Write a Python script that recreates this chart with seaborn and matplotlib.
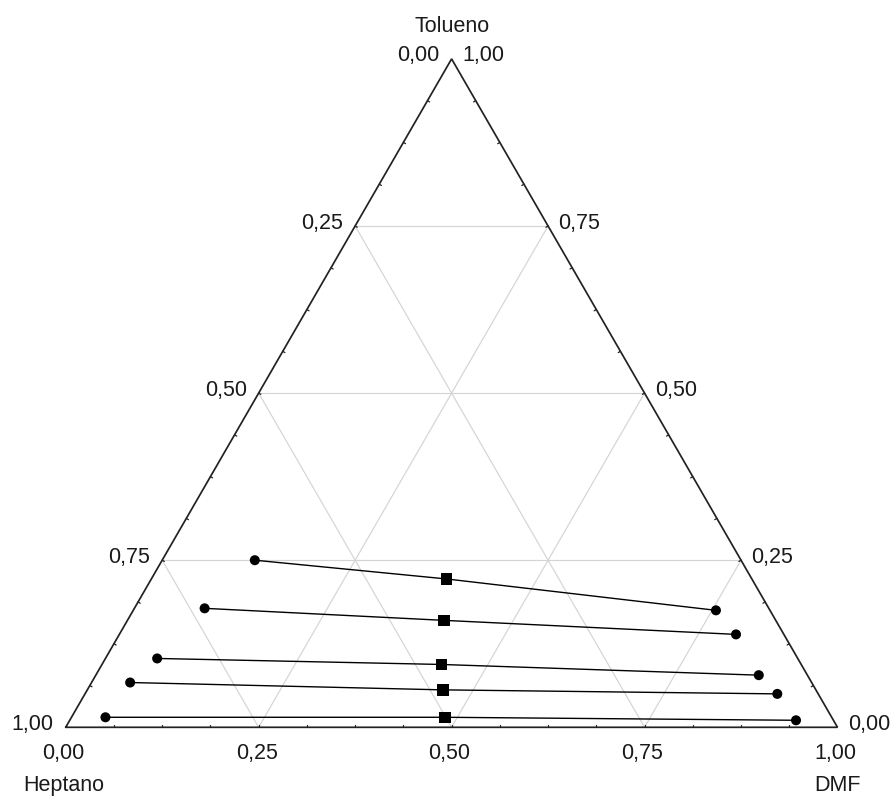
import numpy as np
import pandas as pd
import matplotlib
matplotlib.use("Agg")
import matplotlib.pyplot as plt
import seaborn as sns

# Liquid-liquid equilibrium tie lines for Heptano / Tolueno / DMF (mass fractions)
# Heptane-rich phase (left ends)
raf_dmf = [0.120, 0.091, 0.067, 0.050, 0.044]
raf_tol = [0.250, 0.178, 0.103, 0.067, 0.015]
# Global mixture compositions (squares)
mix_dmf = [0.382, 0.410, 0.440, 0.461, 0.484]
mix_tol = [0.222, 0.160, 0.094, 0.056, 0.015]
# DMF-rich phase (right ends)
ext_dmf = [0.755, 0.799, 0.859, 0.897, 0.941]
ext_tol = [0.175, 0.139, 0.078, 0.050, 0.0105]

tick_values = [0.0, 0.25, 0.5, 0.75, 1.0]
tick_labels = ["0,00", "0,25", "0,50", "0,75", "1,00"]
component_names = ["Heptano", "DMF", "Tolueno"]

SQ3 = np.sqrt(3) / 2


def to_xy(dmf, tol):
    dmf = np.asarray(dmf, float)
    tol = np.asarray(tol, float)
    return dmf + tol / 2, tol * SQ3


rows = []
for i in range(len(raf_dmf)):
    for kind, d, t in (("fase", raf_dmf[i], raf_tol[i]),
                       ("mezcla", mix_dmf[i], mix_tol[i]),
                       ("fase", ext_dmf[i], ext_tol[i])):
        x, y = to_xy(d, t)
        rows.append({"linea": i, "tipo": kind, "x": float(x), "y": float(y)})
df = pd.DataFrame(rows)

sns.set_style("white")
plt.rcParams["font.family"] = ["Liberation Sans", "DejaVu Sans"]

W, H = 894, 796
fig = plt.figure(figsize=(W / 100, H / 100), dpi=100)
ax = fig.add_axes([0, 0, 1, 1])

# pixel scale of the unit triangle and its lower-left corner
S = 771.8
OX, OY = 65.7, 727.3
ax.set_xlim(-OX / S, (W - OX) / S)
ax.set_ylim(-(H - OY) / S, OY / S)
ax.set_axis_off()


def px(v):
    return v / S


# grid lines of the three components
grid_kw = dict(color="#d4d4d4", lw=0.85, zorder=1)
for v in tick_values[1:-1]:
    # constant Tolueno
    x, y = to_xy([0, 1 - v], [v, v])
    ax.plot(x, y, **grid_kw)
    # constant DMF
    x, y = to_xy([v, v], [0, 1 - v])
    ax.plot(x, y, **grid_kw)
    # constant Heptano
    x, y = to_xy([1 - v, 0], [0, 1 - v])
    ax.plot(x, y, **grid_kw)

# triangle frame
tx, ty = to_xy([0, 1, 0, 0], [0, 0, 1, 0])
ax.plot(tx, ty, color="#222222", lw=1.25, zorder=2, solid_joinstyle="miter")

# small ticks every 1/16 along each edge
tl = px(2.5)
tick_kw = dict(color="#222222", lw=0.9, zorder=2)
for k in range(1, 16):
    f = k / 16
    # bottom edge (DMF)
    x, y = to_xy(f, 0)
    ax.plot([x, x], [y, y + tl], **tick_kw)
    # left edge (Heptano)
    x, y = to_xy(0, f)
    ax.plot([x, x + tl * SQ3], [y, y - tl * 0.5], **tick_kw)
    # right edge (Tolueno)
    x, y = to_xy(1 - f, f)
    ax.plot([x, x - tl * SQ3], [y, y - tl * 0.5], **tick_kw)

# tie lines and their points
sns.lineplot(data=df, x="x", y="y", units="linea", estimator=None, sort=False,
             color="black", lw=1.0, ax=ax, legend=False, zorder=3)
sns.scatterplot(data=df, x="x", y="y", style="tipo",
                markers={"fase": "o", "mezcla": "s"},
                size="tipo", sizes={"fase": 52, "mezcla": 66},
                color="black", linewidth=0, ax=ax, legend=False, zorder=4)

txt = dict(fontsize=15.5, color="#1a1a1a")

# tick labels on the three edges
for v, lab in zip(tick_values, tick_labels):
    # bottom: DMF
    x, y = to_xy(v, 0)
    ax.text(x - px(2), y - px(31.7), lab, ha="center", va="baseline", **txt)
    # left: Heptano (1 at the lower-left corner)
    x, y = to_xy(0, 1 - v)
    ax.text(x - px(12), y - px(2.5), lab, ha="right", va="baseline", **txt)
    # right: Tolueno (1 at the top corner)
    x, y = to_xy(1 - v, v)
    ax.text(x + px(10.5), y - px(2.5), lab, ha="left", va="baseline", **txt)

# component names at the corners
ax.text(px(452 - OX), px(OY - 31.7), component_names[2], ha="center", va="baseline", **txt)
ax.text(px(64 - OX), px(OY - 790.7), component_names[0], ha="center", va="baseline", **txt)
ax.text(px(838 - OX), px(OY - 791), component_names[1], ha="center", va="baseline", **txt)

fig.savefig("out.png", dpi=100, facecolor="white")
